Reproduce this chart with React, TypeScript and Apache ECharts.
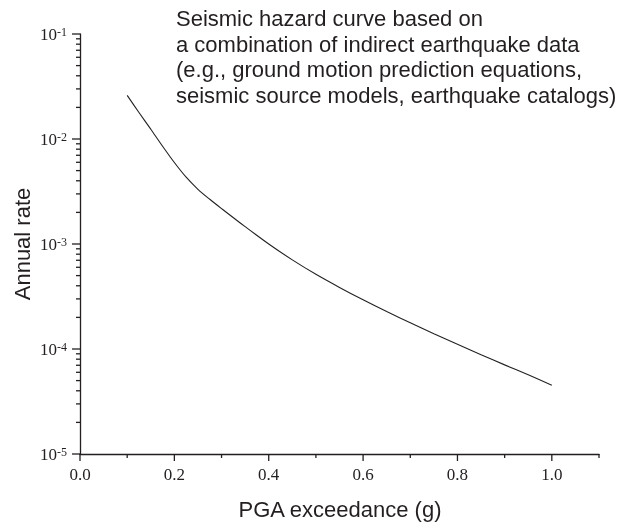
import React, { useEffect, useRef } from 'react';
import * as echarts from 'echarts';

const pga = [0.1, 0.125, 0.15, 0.175, 0.2, 0.225, 0.25, 0.275, 0.3, 0.35, 0.4, 0.45, 0.5, 0.55, 0.6, 0.65, 0.7, 0.75, 0.8, 0.85, 0.9, 0.95, 1.0];
const annualRate = [0.026, 0.01786, 0.0124, 0.00853, 0.00597, 0.004325, 0.00332, 0.002667, 0.002175, 0.001462, 0.001, 7.06e-4, 5.145e-4, 3.86e-4, 2.94e-4, 2.27e-4, 1.774e-4, 1.396e-4, 1.107e-4, 8.82e-5, 7.06e-5, 5.675e-5, 4.52e-5];

const xMin = 0;
const xMax = 1.1;
const yMin = 1e-5;
const yMax = 1e-1;
const xMajorTicks = [0, 0.2, 0.4, 0.6, 0.8, 1.0];
const xMinorTicks = [0.1, 0.3, 0.5, 0.7, 0.9, 1.1];
const yMajorTicks = [1e-5, 1e-4, 1e-3, 1e-2, 1e-1];
const yMinorTicks = [
  2e-5, 3e-5, 4e-5, 5e-5, 6e-5, 7e-5, 8e-5, 9e-5,
  2e-4, 3e-4, 4e-4, 5e-4, 6e-4, 7e-4, 8e-4, 9e-4,
  2e-3, 3e-3, 4e-3, 5e-3, 6e-3, 7e-3, 8e-3, 9e-3,
  2e-2, 3e-2, 4e-2, 5e-2, 6e-2, 7e-2, 8e-2, 9e-2,
];

const xTitle = 'PGA exceedance (g)';
const yTitle = 'Annual rate';
const annotation = [
  'Seismic hazard curve based on',
  'a combination of indirect earthquake data',
  '(e.g., ground motion prediction equations,',
  'seismic source models, earthquake catalogs)',
];

const ink = '#231f20';
const serif = '"Liberation Serif", "Times New Roman", serif';
const sans = '"Liberation Sans", Arial, sans-serif';

function tickSeries(data: number[][], dir: 'x' | 'y', len: number) {
  return {
    type: 'custom',
    coordinateSystem: 'cartesian2d',
    silent: true,
    clip: false,
    z: 5,
    data,
    renderItem: (_p: any, api: any) => {
      const p = api.coord([api.value(0), api.value(1)]);
      const shape = dir === 'x'
        ? { x1: p[0], y1: p[1], x2: p[0], y2: p[1] + len }
        : { x1: p[0] - len, y1: p[1], x2: p[0], y2: p[1] };
      return { type: 'line', shape, style: { stroke: ink, lineWidth: 1.3 } };
    },
  };
}

export default function App() {
  const ref = useRef<HTMLDivElement>(null);
  useEffect(() => {
    if (!ref.current) return;
    const chart = echarts.init(ref.current, undefined, { renderer: 'svg' });
    chart.setOption({
      animation: false,
      grid: { left: 80, right: 27, top: 34, bottom: 70 },
      xAxis: {
        type: 'value', min: xMin, max: xMax, position: 'bottom',
        axisLine: { show: true, lineStyle: { color: ink, width: 1.3 } },
        axisTick: { show: false },
        axisLabel: {
          show: true, customValues: xMajorTicks, margin: 12,
          formatter: (v: number) => v.toFixed(1),
          fontFamily: serif, fontSize: 17, color: ink,
        },
        splitLine: { show: false },
      },
      yAxis: {
        type: 'log', logBase: 10, min: yMin, max: yMax, position: 'left',
        axisLine: { show: true, lineStyle: { color: ink, width: 1.3 } },
        axisTick: { show: false },
        axisLabel: {
          show: true, customValues: yMajorTicks, margin: 13,
          formatter: (v: number) => `{b|10}{s|${Math.round(Math.log10(v))}}`,
          rich: {
            b: { fontFamily: serif, fontSize: 17, lineHeight: 17, color: ink },
            s: { fontFamily: serif, fontSize: 12, lineHeight: 12, verticalAlign: 'top', color: ink },
          },
        },
        splitLine: { show: false },
      },
      series: [
        {
          type: 'line',
          data: pga.map((x, i) => [x, annualRate[i]]),
          smooth: 0.3,
          showSymbol: false,
          lineStyle: { color: '#222', width: 1.1 },
        },
        tickSeries(xMajorTicks.map((v) => [v, yMin]), 'x', 7),
        tickSeries(xMinorTicks.map((v) => [v, yMin]), 'x', 4),
        tickSeries(yMajorTicks.map((v) => [xMin, v]), 'y', 8),
        tickSeries(yMinorTicks.map((v) => [xMin, v]), 'y', 4),
      ],
      graphic: [
        {
          type: 'text', x: 22, y: 244, rotation: Math.PI / 2,
          style: { text: yTitle, font: `22px ${sans}`, fill: ink, align: 'center', verticalAlign: 'middle' },
        },
        {
          type: 'text', x: 340, y: 509,
          style: { text: xTitle, font: `22px ${sans}`, fill: ink, align: 'center', verticalAlign: 'middle' },
        },
        {
          type: 'text', x: 176, y: 6,
          style: { text: annotation.join('\n'), font: `22px ${sans}`, lineHeight: 25.5, fill: ink, align: 'left', verticalAlign: 'top' },
        },
      ],
    });
    return () => chart.dispose();
  }, []);
  return <div ref={ref} style={{ position: 'fixed', left: 0, top: 0, width: 626, height: 524 }} />;
}
